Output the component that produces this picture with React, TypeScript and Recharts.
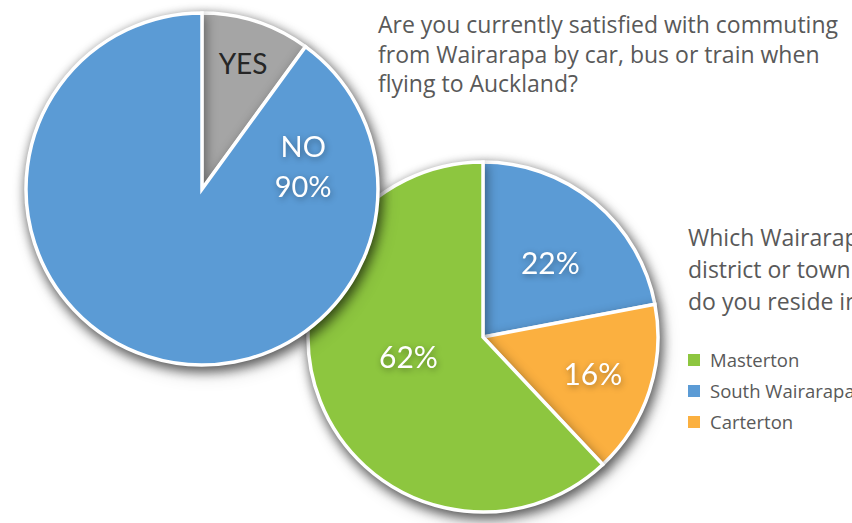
import { PieChart, Pie, Cell } from 'recharts';

// question 1: commuting satisfaction
const answerNames = ['YES', 'NO'];
const answerValues = [10, 90];
const answerColors = ['#A5A5A5', '#5B9BD5'];

// question 2: district of residence (drawn clockwise from 12 o'clock)
const districtNames = ['South Wairarapa', 'Carterton', 'Masterton'];
const districtValues = [22, 16, 62];
const districtColors = ['#5B9BD5', '#FBB040', '#8DC63F'];
const legendOrder = ['Masterton', 'South Wairarapa', 'Carterton'];

const titleOne = ['Are you currently satisfied with commuting', 'from Wairarapa by car, bus or train when', 'flying to Auckland?'];
const titleTwo = ['Which Wairarapa', 'district or town', 'do you reside in?'];

const answerData = answerNames.map((name, i) => ({ name, value: answerValues[i] }));
const districtData = districtNames.map((name, i) => ({ name, value: districtValues[i] }));

const FONT = 'Lato, "Open Sans", sans-serif';
const TEXT_FONT = '"Open Sans", sans-serif';
const RAD = Math.PI / 180;

// where Excel dropped each data label: fraction of radius, optional fixed angle (recharts degrees)
const labelSpot: Record<string, { frac: number; angle?: number }> = {
  YES: { frac: 0.755 },
  NO: { frac: 0.59, angle: 13 },
  'South Wairarapa': { frac: 0.575, angle: 48 },
  Carterton: { frac: 0.66 },
  Masterton: { frac: 0.44, angle: -165.6 },
};

const textShadow = { filter: 'drop-shadow(1px 2px 3px rgba(0,0,0,0.35))' };

const renderLabel = (p: any) => {
  const spot = labelSpot[p.name] || { frac: 0.6 };
  const ang = spot.angle ?? p.midAngle;
  const r = p.outerRadius * spot.frac;
  const x = p.cx + r * Math.cos(-ang * RAD);
  const y = p.cy + r * Math.sin(-ang * RAD);
  const pct = `${Math.round(p.percent * 100)}%`;
  if (p.name === 'YES') {
    return (
      <text x={x} y={y} fill="#262626" fontSize={28} fontFamily={FONT} textAnchor="middle" dominantBaseline="central">
        YES
      </text>
    );
  }
  if (p.name === 'NO') {
    return (
      <text x={x} fill="#fff" fontSize={29} fontFamily={FONT} textAnchor="middle" style={textShadow}>
        <tspan x={x} y={y - 20} dominantBaseline="central">NO</tspan>
        <tspan x={x} y={y + 20} dominantBaseline="central">{pct}</tspan>
      </text>
    );
  }
  return (
    <text x={x} y={y} fill="#fff" fontSize={30} fontFamily={FONT} textAnchor="middle" dominantBaseline="central" style={textShadow}>
      {pct}
    </text>
  );
};

export default function App() {
  return (
    <div style={{ position: 'fixed', left: 0, top: 0, width: 852, height: 523, overflow: 'hidden', background: '#fff', fontFamily: TEXT_FONT }}>
      <style>{`.pie-shadow { filter: drop-shadow(2px 4px 6px rgba(0,0,0,0.42)); }`}</style>

      <div style={{ position: 'absolute', left: 378, top: 10, color: '#595959', fontSize: 23, lineHeight: '29.5px', whiteSpace: 'nowrap' }}>
        {titleOne.map((t) => <div key={t}>{t}</div>)}
      </div>

      <div style={{ position: 'absolute', left: 688, top: 221, color: '#595959', fontSize: 23, lineHeight: '32px', whiteSpace: 'nowrap' }}>
        {titleTwo.map((t) => <div key={t}>{t}</div>)}
      </div>

      <div style={{ position: 'absolute', left: 688, top: 344, color: '#595959', fontSize: 18.5, whiteSpace: 'nowrap' }}>
        {legendOrder.map((n) => (
          <div key={n} style={{ display: 'flex', alignItems: 'center', height: 31 }}>
            <span style={{ width: 12, height: 12, background: districtColors[districtNames.indexOf(n)], marginRight: 10 }} />
            {n}
          </div>
        ))}
      </div>

      <div style={{ position: 'absolute', left: 0, top: 0 }}>
        <PieChart width={852} height={523} margin={{ top: 0, right: 0, bottom: 0, left: 0 }}>
          <Pie
            data={districtData}
            dataKey="value"
            nameKey="name"
            cx={483}
            cy={337}
            outerRadius={175}
            startAngle={90}
            endAngle={-270}
            stroke="#fff"
            strokeWidth={3.5}
            label={renderLabel}
            labelLine={false}
            className="pie-shadow"
            isAnimationActive={false}
          >
            {districtData.map((d, i) => <Cell key={d.name} fill={districtColors[i]} />)}
          </Pie>
          <Pie
            data={answerData}
            dataKey="value"
            nameKey="name"
            cx={202}
            cy={189}
            outerRadius={176}
            startAngle={90}
            endAngle={-270}
            stroke="#fff"
            strokeWidth={3.5}
            label={renderLabel}
            labelLine={false}
            className="pie-shadow"
            isAnimationActive={false}
          >
            {answerData.map((d, i) => <Cell key={d.name} fill={answerColors[i]} />)}
          </Pie>
        </PieChart>
      </div>
    </div>
  );
}
